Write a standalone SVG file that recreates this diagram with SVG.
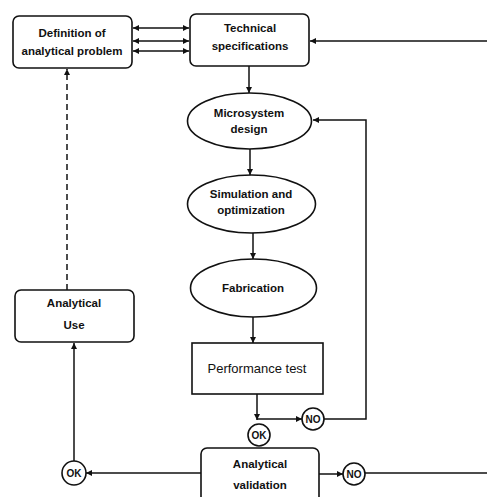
<svg xmlns="http://www.w3.org/2000/svg" width="487" height="497" viewBox="0 0 487 497">
<defs>
<marker id="arr" viewBox="0 0 10 10" refX="10" refY="5" markerWidth="7" markerHeight="6" markerUnits="userSpaceOnUse" orient="auto-start-reverse">
<path d="M0,0 L10,5 L0,10 z" fill="#111"/>
</marker>
<style>
.box{fill:#fff;stroke:#111;stroke-width:1.6}
.t{font-family:"Liberation Sans",Arial,sans-serif;font-size:11.5px;font-weight:bold;fill:#111;text-anchor:middle}
.r{font-family:"Liberation Sans",Arial,sans-serif;font-size:13px;fill:#111;text-anchor:middle}
.c{font-family:"Liberation Sans",Arial,sans-serif;font-size:10px;font-weight:bold;fill:#111;text-anchor:middle}
.ln{fill:none;stroke:#111;stroke-width:1.5}
.end{marker-end:url(#arr)}
.both{marker-start:url(#arr);marker-end:url(#arr)}
</style>
</defs>
<rect width="487" height="497" fill="#fff"/>
<g id="connectors">
<line class="ln both" x1="133" y1="28" x2="189" y2="28"/>
<line class="ln both" x1="133" y1="41" x2="189" y2="41"/>
<line class="ln both" x1="133" y1="51" x2="189" y2="51"/>
<line class="ln end" x1="487" y1="41" x2="310" y2="41"/>
<line class="ln end" x1="249" y1="66" x2="249" y2="93"/>
<line class="ln end" x1="250" y1="149" x2="250" y2="175"/>
<line class="ln end" x1="253" y1="233" x2="253" y2="259"/>
<line class="ln end" x1="253" y1="317" x2="253" y2="343"/>
<line class="ln end" x1="257" y1="394" x2="257" y2="420"/>
<line class="ln end" x1="257" y1="419" x2="302" y2="419"/>
<polyline class="ln end" points="324,419 366,419 366,120 313,120"/>
<line class="ln end" x1="201" y1="473" x2="86" y2="473"/>
<line class="ln end" x1="74" y1="461" x2="74" y2="343"/>
<line class="ln end" x1="67" y1="290" x2="67" y2="69" stroke-dasharray="6,4"/>
<line class="ln end" x1="319" y1="474" x2="343" y2="474"/>
<line class="ln" x1="365" y1="473" x2="487" y2="473"/>
</g>
<g id="definition">
<rect class="box" x="13" y="16" width="119" height="52" rx="6"/>
<text class="t" x="72" y="37">Definition of</text>
<text class="t" x="72" y="55">analytical problem</text>
</g>
<g id="technical">
<rect class="box" x="190" y="14" width="119" height="52" rx="6"/>
<text class="t" x="250" y="32">Technical</text>
<text class="t" x="250" y="50">specifications</text>
</g>
<g id="microsystem">
<ellipse class="box" cx="249.5" cy="121" rx="62" ry="28"/>
<text class="t" x="249" y="117">Microsystem</text>
<text class="t" x="249" y="133">design</text>
</g>
<g id="simulation">
<ellipse class="box" cx="251.5" cy="204" rx="64" ry="29"/>
<text class="t" x="251" y="198">Simulation and</text>
<text class="t" x="251" y="214">optimization</text>
</g>
<g id="fabrication">
<ellipse class="box" cx="253.5" cy="288" rx="63" ry="29"/>
<text class="t" x="253" y="292">Fabrication</text>
</g>
<g id="performance">
<rect class="box" x="192" y="343" width="131" height="51"/>
<text class="r" x="257" y="373">Performance test</text>
</g>
<g id="no1">
<circle class="box" cx="313" cy="419" r="11"/>
<text class="c" x="313" y="423">NO</text>
</g>
<g id="ok1">
<circle class="box" cx="259" cy="435" r="11"/>
<text class="c" x="259" y="439">OK</text>
</g>
<g id="validation">
<rect class="box" x="201" y="448" width="118" height="60" rx="6"/>
<text class="t" x="260" y="468">Analytical</text>
<text class="t" x="260" y="489">validation</text>
</g>
<g id="ok2">
<circle class="box" cx="74" cy="473" r="12"/>
<text class="c" x="74" y="477">OK</text>
</g>
<g id="no2">
<circle class="box" cx="354" cy="474" r="11"/>
<text class="c" x="354" y="478">NO</text>
</g>
<g id="use">
<rect class="box" x="15" y="290" width="119" height="52" rx="6"/>
<text class="t" x="74" y="307">Analytical</text>
<text class="t" x="74" y="329">Use</text>
</g>
</svg>
